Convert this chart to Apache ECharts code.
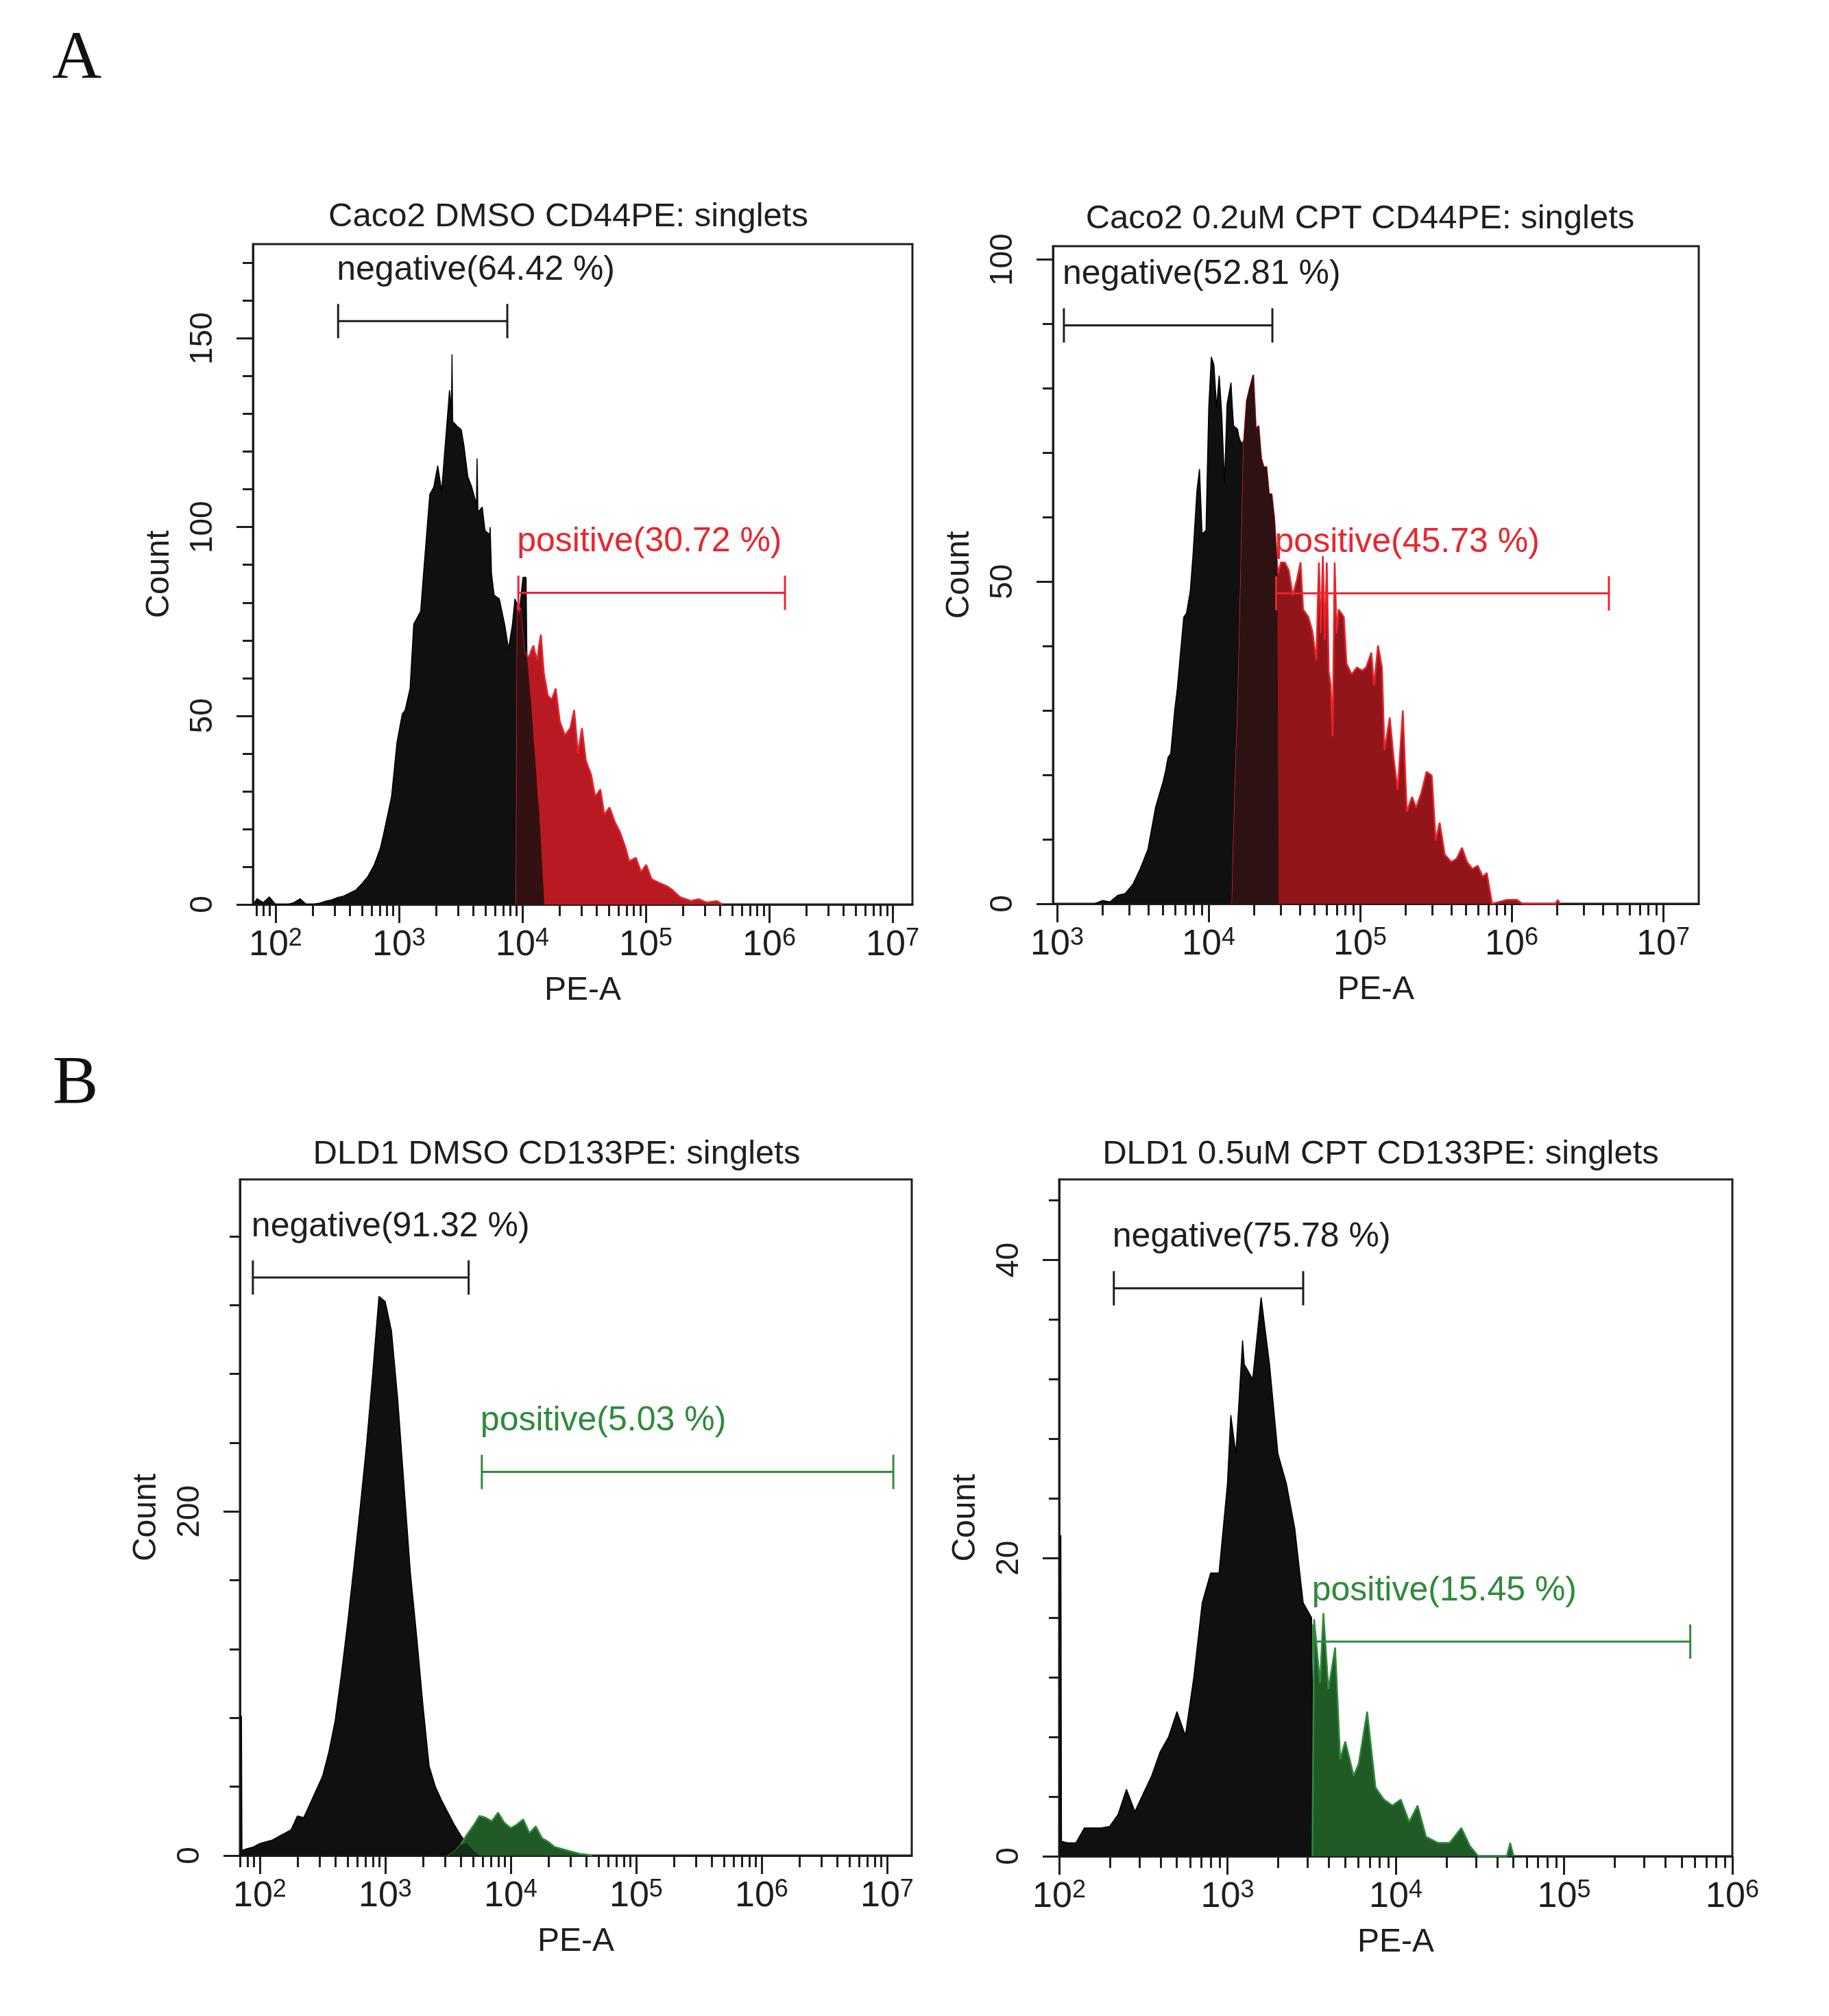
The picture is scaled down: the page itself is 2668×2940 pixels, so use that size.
<!DOCTYPE html>
<html>
<head>
<meta charset="utf-8">
<title>CD44 / CD133 flow histograms</title>
<script src="https://cdn.jsdelivr.net/npm/echarts@6.0.0/dist/echarts.min.js"></script>
<style>
  html, body { margin: 0; padding: 0; background: #fff; }
  #chart { width: 2668px; height: 2940px; }
</style>
</head>
<body>
<div id="chart"></div>
<script>

// A, left: Caco2 DMSO CD44PE
var a1BlackDecade = [1.82, 1.85, 1.90, 1.95, 2.00, 2.05, 2.10, 2.15, 2.20, 2.25, 2.30,
  2.35, 2.40, 2.45, 2.50, 2.55, 2.60, 2.65, 2.70, 2.75, 2.80, 2.85,
  2.878, 2.94, 2.984, 3.027, 3.05, 3.09, 3.12, 3.176, 3.197, 3.25,
  3.282, 3.314, 3.346, 3.378, 3.41, 3.425, 3.43, 3.435, 3.47, 3.505,
  3.527, 3.558, 3.59, 3.628, 3.633, 3.64, 3.675, 3.697, 3.735, 3.739,
  3.75, 3.771, 3.813, 3.856, 3.888, 3.92, 3.94,
  3.952, 3.962, 3.973, 3.984, 4.005, 4.016, 4.030, 4.037, 4.058, 4.069,
  4.09, 4.1, 4.122, 4.133, 4.15, 4.175];
var a1BlackCount = [0, 1.5, 0.5, 2, 0, 0, 0, 0.5, 1.5, 0, 0,
  0.3, 0.8, 1.2, 1.8, 2.2, 3, 3.8, 5.5, 7.5, 10.5, 15,
  19, 28.6, 42.9, 50.5, 51.5, 57.2, 74.3, 77.7, 86.7, 108.7,
  110.6, 116.3, 109.6, 123, 136.3, 131, 145.8, 128, 126.8, 125.8,
  121.5, 113.4, 110.6, 106, 118.2, 104, 105.3, 99.1, 98, 100,
  87.7, 82, 81, 74.3, 67.7, 74.3, 81,
  80, 78, 76.3, 80, 86.7, 86.7, 86.7, 64.8, 57, 53.4,
  43, 39.1, 29, 24.8, 15, 0];
var a1RedDecade = [3.952, 3.962, 3.973, 3.984, 4.005, 4.016, 4.030, 4.037, 4.058, 4.069,
  4.09, 4.1, 4.122, 4.133, 4.15, 4.175,
  4.207, 4.239, 4.27, 4.303, 4.345, 4.388, 4.42, 4.451, 4.483, 4.515,
  4.558, 4.59, 4.632, 4.664, 4.707, 4.749, 4.792, 4.834, 4.866, 4.919,
  4.962, 5.004, 5.047, 5.11, 5.174, 5.217, 5.28, 5.366, 5.43, 5.493,
  5.578, 5.62];
var a1RedCount = [0, 80, 79, 78, 70, 66.7, 66, 66, 65.8, 67,
  68.6, 67, 64.8, 68, 71.5, 61,
  55.3, 54.3, 57.2, 48.6, 44.8, 46.7, 51.5, 40, 46.7, 38.1,
  34.3, 28.6, 30.5, 23.8, 25.7, 21.9, 19.1, 15.2, 11.4, 12.4,
  8.6, 10.5, 6.7, 5.7, 4.8, 3.8, 1.9, 0.9, 1.4, 0.5,
  0.9, 0];

// A, right: Caco2 0.2uM CPT CD44PE
var a2BlackDecade = [3.25, 3.30, 3.35, 3.40, 3.45, 3.50, 3.55, 3.60, 3.65, 3.70,
  3.715, 3.732, 3.750, 3.776, 3.793, 3.810, 3.836, 3.854, 3.879, 3.897,
  3.923, 3.940, 3.957, 3.983, 4.001, 4.018, 4.035, 4.053, 4.070, 4.087,
  4.105, 4.122, 4.148, 4.157, 4.165, 4.174, 4.191, 4.2, 4.217, 4.234,
  4.252, 4.269, 4.295, 4.312, 4.330, 4.347, 4.364, 4.382, 4.399, 4.416,
  4.434, 4.451, 4.46];
var a2BlackCount = [0, 0.5, 0.3, 1.3, 1.6, 3, 5.5, 8.5, 15, 19,
  20.5, 22.7, 23.3, 30, 33.3, 37.8, 44.5, 45.1, 48.5, 54.1,
  64.1, 67.5, 57.4, 58, 77, 84.9, 83.7, 77, 82, 75.9,
  65.3, 77.6, 80.9, 77, 74.2, 74, 73.7, 72.5, 71.4, 72,
  78.1, 79.8, 82.1, 73.7, 74.2, 69.2, 67.8, 67.8, 63.6, 63.6,
  59.7, 53, 0];
var a2RedDecade = [4.157, 4.165, 4.174, 4.191, 4.2, 4.217, 4.234, 4.252, 4.269, 4.295,
  4.312, 4.330, 4.347, 4.364, 4.382, 4.399, 4.416, 4.434, 4.451, 4.46,
  4.477, 4.503, 4.529, 4.555, 4.581, 4.607, 4.624, 4.659, 4.685, 4.711,
  4.728, 4.741, 4.754, 4.767, 4.780, 4.793, 4.806, 4.819, 4.832, 4.845,
  4.858, 4.893, 4.910, 4.944, 4.979, 5.014, 5.040, 5.074, 5.092, 5.118,
  5.144, 5.161, 5.196, 5.221, 5.248, 5.282, 5.308, 5.343, 5.369, 5.403,
  5.438, 5.473, 5.499, 5.525, 5.559, 5.602, 5.637, 5.672, 5.706, 5.741,
  5.776, 5.810, 5.836, 5.871, 5.966, 6.035, 6.07, 6.29, 6.304, 6.32];
var a2RedCount = [0, 8, 16, 28, 35.6, 53.5, 72, 78.1, 79.8, 82.1,
  73.7, 74.2, 69.2, 67.8, 67.8, 63.6, 63.6, 59.7, 53, 51.3,
  53, 53, 51.8, 47.9, 50.1, 53, 45.7, 44.5, 42.3, 37.8,
  53, 42, 54, 41, 53, 36, 33.9, 26, 53, 42,
  45.7, 44.5, 37.3, 35.6, 36.7, 36.2, 36.7, 39, 33.9, 40.1,
  36.7, 23.8, 28.9, 22.7, 17.7, 30, 14.3, 16.6, 14.9, 17.1,
  20.5, 19.9, 9.8, 12.6, 7.6, 6.5, 7, 8.7, 6.5, 5.4,
  5.9, 4.2, 4.8, 0, 0.6, 0.6, 0, 0, 0.6, 0];

// B, left: DLD1 DMSO CD133PE
var b1BlackDecade = [1.842, 1.854, 1.858, 1.90, 1.95, 2.00, 2.05, 2.10, 2.15, 2.20, 2.25, 2.30,
  2.35, 2.40, 2.45, 2.50, 2.55, 2.60, 2.65, 2.70, 2.75, 2.80,
  2.85, 2.90, 2.95, 3.00, 3.05, 3.10, 3.15, 3.20, 3.25, 3.30,
  3.35, 3.40, 3.45, 3.50, 3.55, 3.60, 3.65, 3.70, 3.75];
var b1BlackCount = [81, 81, 3, 4, 5, 7, 8, 9, 11, 13, 15, 23,
  22, 30, 38, 46, 60, 78, 105, 135, 168, 202,
  238, 280, 325, 322, 305, 265, 215, 165, 128, 88,
  52, 40, 32, 25, 18, 12, 7, 3, 0];
var b1GreenDecade = [3.50, 3.55, 3.60, 3.65, 3.70, 3.75, 3.80, 3.85, 3.90, 3.95,
  4.00, 4.05, 4.10, 4.15, 4.20, 4.25, 4.30, 4.35, 4.40, 4.45,
  4.50, 4.55, 4.60, 4.65];
var b1GreenCount = [0, 2, 6, 12, 17, 23, 22, 20, 25, 19,
  16, 18, 21, 13, 17, 10, 8, 5, 4, 3,
  2, 1, 0.6, 0];

// B, right: DLD1 0.5uM CPT CD133PE
var b2BlackDecade = [2.0, 2.01, 2.014, 2.05, 2.10, 2.15, 2.20, 2.25, 2.30, 2.35, 2.40, 2.45,
  2.50, 2.55, 2.60, 2.65, 2.70, 2.75, 2.80, 2.85, 2.90, 2.95,
  3.00, 3.02, 3.05, 3.09, 3.10, 3.15, 3.20, 3.25, 3.30, 3.35, 3.40, 3.45,
  3.50, 3.515];
var b2BlackCount = [21.5, 21.5, 1, 0.9, 0.9, 1.9, 1.9, 1.9, 2, 2.8, 4.5, 3,
  4.2, 5.4, 7, 8, 9.7, 8.1, 12, 17, 19, 19,
  25, 29.6, 27, 34.6, 33, 32, 37.5, 33, 27, 25, 22, 17,
  16, 0];
var b2GreenDecade = [3.505, 3.515, 3.55, 3.57, 3.60, 3.64, 3.67, 3.70, 3.75, 3.78,
  3.83, 3.88, 3.93, 3.98, 4.03, 4.08, 4.13, 4.18, 4.25, 4.32,
  4.39, 4.44, 4.49, 4.66, 4.68, 4.70];
var b2GreenCount = [0, 15.9, 11.6, 16.3, 11.2, 14, 6.5, 7.7, 5.4, 6.2,
  9.7, 4.6, 3.8, 3.4, 3.8, 2.3, 3.4, 1.3, 0.9, 0.9,
  1.9, 0.7, 0, 0, 0.9, 0];

// gates: [from decade, to decade, count level]
var a1Gates = [[2.507, 3.878, 154.6], [3.968, 6.128, 82.6]];
var a1GateLabels = ['negative(64.42 %)', 'positive(30.72 %)'];
var a2Gates = [[3.045, 4.421, 89.8], [4.446, 6.642, 48.2]];
var a2GateLabels = ['negative(52.81 %)', 'positive(45.73 %)'];
var b1Gates = [[1.945, 3.665, 336], [3.77, 7.05, 223]];
var b1GateLabels = ['negative(91.32 %)', 'positive(5.03 %)'];
var b2Gates = [[2.325, 3.45, 38.1], [3.51, 5.75, 14.4]];
var b2GateLabels = ['negative(75.78 %)', 'positive(15.45 %)'];

// tick labels
var a1XMajor = [2, 3, 4, 5, 6, 7];
var a2XMajor = [3, 4, 5, 6, 7];
var b1XMajor = [2, 3, 4, 5, 6, 7];
var b2XMajor = [2, 3, 4, 5, 6];
var a1YMajor = [0, 50, 100, 150];
var a1YMinor = [10, 20, 30, 40, 60, 70, 80, 90, 110, 120, 130, 140, 160, 170];
var a2YMajor = [0, 50, 100];
var a2YMinor = [10, 20, 30, 40, 60, 70, 80, 90];
var b1YMajor = [0, 200];
var b1YMinor = [40, 80, 120, 160, 240, 280, 320, 360];
var b2YMajor = [0, 20, 40];
var b2YMinor = [4, 8, 12, 16, 24, 28, 32, 36, 44];

var titles = ['Caco2 DMSO CD44PE: singlets', 'Caco2 0.2uM CPT CD44PE: singlets',
  'DLD1 DMSO CD133PE: singlets', 'DLD1 0.5uM CPT CD133PE: singlets'];

var FONT = '"Liberation Sans", Arial, sans-serif';
var INK = '#1e1e1e';
var RED1 = { fill: '#b91a21', line: '#e8232b', mix: '#331012', gate: '#e8262e' };
var RED2 = { fill: '#921619', line: '#e8232b', mix: '#2d1214', gate: '#e8262e' };
var GREEN = { fill: '#1f5a27', line: '#2f8b3b', mix: '#13301a', gate: '#2e8b3a' };

var panels = [
  { grid: { left: 369, top: 356, width: 962, height: 963 }, xMin: 1.817, xMax: 7.161, yMax: 175,
    black: [a1BlackDecade, a1BlackCount], gated: [a1RedDecade, a1RedCount], pal: RED1,
    gates: a1Gates, gateLabels: a1GateLabels, xMajor: a1XMajor, yMajor: a1YMajor, yMinor: a1YMinor,
    title: [829, 316] },
  { grid: { left: 1536, top: 359, width: 942, height: 959 }, xMin: 2.973, xMax: 7.235, yMax: 102.1,
    black: [a2BlackDecade, a2BlackCount], gated: [a2RedDecade, a2RedCount], pal: RED2,
    gates: a2Gates, gateLabels: a2GateLabels, xMajor: a2XMajor, yMajor: a2YMajor, yMinor: a2YMinor,
    title: [1984, 319] },
  { grid: { left: 350, top: 1720, width: 980, height: 986 }, xMin: 1.842, xMax: 7.197, yMax: 393,
    black: [b1BlackDecade, b1BlackCount], gated: [b1GreenDecade, b1GreenCount], pal: GREEN,
    gates: b1Gates, gateLabels: b1GateLabels, xMajor: b1XMajor, yMajor: b1YMajor, yMinor: b1YMinor,
    title: [812, 1683] },
  { grid: { left: 1545, top: 1720, width: 982, height: 987 }, xMin: 2, xMax: 6, yMax: 45.4,
    black: [b2BlackDecade, b2BlackCount], gated: [b2GreenDecade, b2GreenCount], pal: GREEN,
    gates: b2Gates, gateLabels: b2GateLabels, xMajor: b2XMajor, yMajor: b2YMajor, yMinor: b2YMinor,
    title: [2014, 1683] }
];

// 2x..9x positions inside each decade
function minorDecades(min, max) {
  var out = [];
  for (var k = Math.floor(min); k <= Math.floor(max); k++) {
    for (var m = 2; m <= 9; m++) {
      var v = k + Math.log10(m);
      if (v >= min && v <= max) out.push(v);
    }
  }
  return out;
}

function pairs(xs, ys) {
  return xs.map(function (x, i) { return [x, ys[i]]; });
}

// where the gated histogram sits on top of the black one (shared channels only)
function overlap(black, gated) {
  var lookup = {};
  black[0].forEach(function (x, i) { lookup[x.toFixed(3)] = black[1][i]; });
  var out = [];
  gated[0].forEach(function (x, i) {
    var b = lookup[x.toFixed(3)];
    if (b !== undefined) out.push([x, Math.min(b, gated[1][i])]);
  });
  return out;
}

function gateRenderer(labels, colors) {
  return function (params, api) {
    var p1 = api.coord([api.value(0), api.value(2)]);
    var p2 = api.coord([api.value(1), api.value(2)]);
    var c = colors[params.dataIndex];
    var st = { stroke: c, lineWidth: 3 };
    var h = 25;
    return {
      type: 'group',
      children: [
        { type: 'line', shape: { x1: p1[0], y1: p1[1], x2: p2[0], y2: p2[1] }, style: st },
        { type: 'line', shape: { x1: p1[0], y1: p1[1] - h, x2: p1[0], y2: p1[1] + h }, style: st },
        { type: 'line', shape: { x1: p2[0], y1: p2[1] - h, x2: p2[0], y2: p2[1] + h }, style: st },
        { type: 'text', x: p1[0] - 2, y: p1[1] - 74,
          style: { text: labels[params.dataIndex], fill: c, fontSize: 50, fontFamily: FONT,
                   align: 'left', verticalAlign: 'middle' } }
      ]
    };
  };
}

var grids = [], xAxes = [], yAxes = [], series = [], graphics = [];
var tickLine = { color: INK, width: 3 };

panels.forEach(function (p, i) {
  grids.push({ left: p.grid.left, top: p.grid.top, width: p.grid.width, height: p.grid.height,
    show: true, borderColor: INK, borderWidth: 3, backgroundColor: '#fff' });

  xAxes.push({
    type: 'value', gridIndex: i, position: 'bottom', min: p.xMin, max: p.xMax,
    name: 'PE-A', nameLocation: 'middle', nameGap: 102,
    nameTextStyle: { fontSize: 48, color: INK, fontFamily: FONT },
    axisLine: { show: true, onZero: false, lineStyle: tickLine },
    axisTick: { show: true, length: 27, lineStyle: tickLine, customValues: p.xMajor },
    axisLabel: {
      show: true, customValues: p.xMajor, margin: 32, color: INK,
      formatter: function (v) { return '{b|10}{s|' + Math.round(v) + '}'; },
      rich: {
        b: { fontSize: 52, fontFamily: FONT, color: INK, lineHeight: 56 },
        s: { fontSize: 36, fontFamily: FONT, color: INK, lineHeight: 22, verticalAlign: 'top' }
      }
    },
    splitLine: { show: false }
  });
  xAxes.push({
    type: 'value', gridIndex: i, position: 'bottom', offset: 0, min: p.xMin, max: p.xMax,
    axisLine: { show: false, onZero: false },
    axisTick: { show: true, length: 17, lineStyle: tickLine, customValues: minorDecades(p.xMin, p.xMax) },
    axisLabel: { show: false },
    splitLine: { show: false }
  });

  yAxes.push({
    type: 'value', gridIndex: i, position: 'left', min: 0, max: p.yMax,
    name: 'Count', nameLocation: 'middle', nameRotate: 90, nameGap: 112,
    nameTextStyle: { fontSize: 48, color: INK, fontFamily: FONT },
    axisLine: { show: true, onZero: false, lineStyle: tickLine },
    axisTick: { show: true, length: 24, lineStyle: tickLine, customValues: p.yMajor },
    axisLabel: { show: true, customValues: p.yMajor, rotate: 90, margin: 50,
      fontSize: 46, fontFamily: FONT, color: INK },
    splitLine: { show: false }
  });
  yAxes.push({
    type: 'value', gridIndex: i, position: 'left', offset: 0, min: 0, max: p.yMax,
    axisLine: { show: false, onZero: false },
    axisTick: { show: true, length: 15, lineStyle: tickLine, customValues: p.yMinor },
    axisLabel: { show: false },
    splitLine: { show: false }
  });

  var xi = i * 2, yi = i * 2;
  series.push({
    type: 'line', xAxisIndex: xi, yAxisIndex: yi, data: pairs(p.black[0], p.black[1]),
    symbol: 'none', z: 2, lineStyle: { color: '#000', width: 1.5 },
    areaStyle: { color: '#101010', opacity: 1 }, animation: false
  });
  series.push({
    type: 'line', xAxisIndex: xi, yAxisIndex: yi, data: pairs(p.gated[0], p.gated[1]),
    symbol: 'none', z: 3, lineStyle: { color: p.pal.line, width: 2.5 },
    areaStyle: { color: p.pal.fill, opacity: 1 }, animation: false
  });
  series.push({
    type: 'line', xAxisIndex: xi, yAxisIndex: yi, data: overlap(p.black, p.gated),
    symbol: 'none', z: 4, lineStyle: { color: p.pal.mix, width: 1 },
    areaStyle: { color: p.pal.mix, opacity: 1 }, animation: false
  });
  series.push({
    type: 'custom', xAxisIndex: xi, yAxisIndex: yi, z: 5, clip: false, animation: false,
    renderItem: gateRenderer(p.gateLabels, [INK, p.pal.gate]),
    data: p.gates
  });

  graphics.push({ type: 'text', x: p.title[0], y: p.title[1],
    style: { text: titles[i], fontSize: 49, fontFamily: FONT, fill: INK,
             align: 'center', verticalAlign: 'middle' } });
});

graphics.push({ type: 'text', x: 112, y: 88,
  style: { text: 'A', fontSize: 100, fontFamily: '"Liberation Serif", "Times New Roman", serif',
           fill: '#111', align: 'center', verticalAlign: 'middle' } });
graphics.push({ type: 'text', x: 110, y: 1582,
  style: { text: 'B', fontSize: 100, fontFamily: '"Liberation Serif", "Times New Roman", serif',
           fill: '#111', align: 'center', verticalAlign: 'middle' } });

var chart = echarts.init(document.getElementById('chart'));
chart.setOption({
  backgroundColor: '#fff',
  animation: false,
  grid: grids,
  xAxis: xAxes,
  yAxis: yAxes,
  series: series,
  graphic: graphics
});
</script>
</body>
</html>
